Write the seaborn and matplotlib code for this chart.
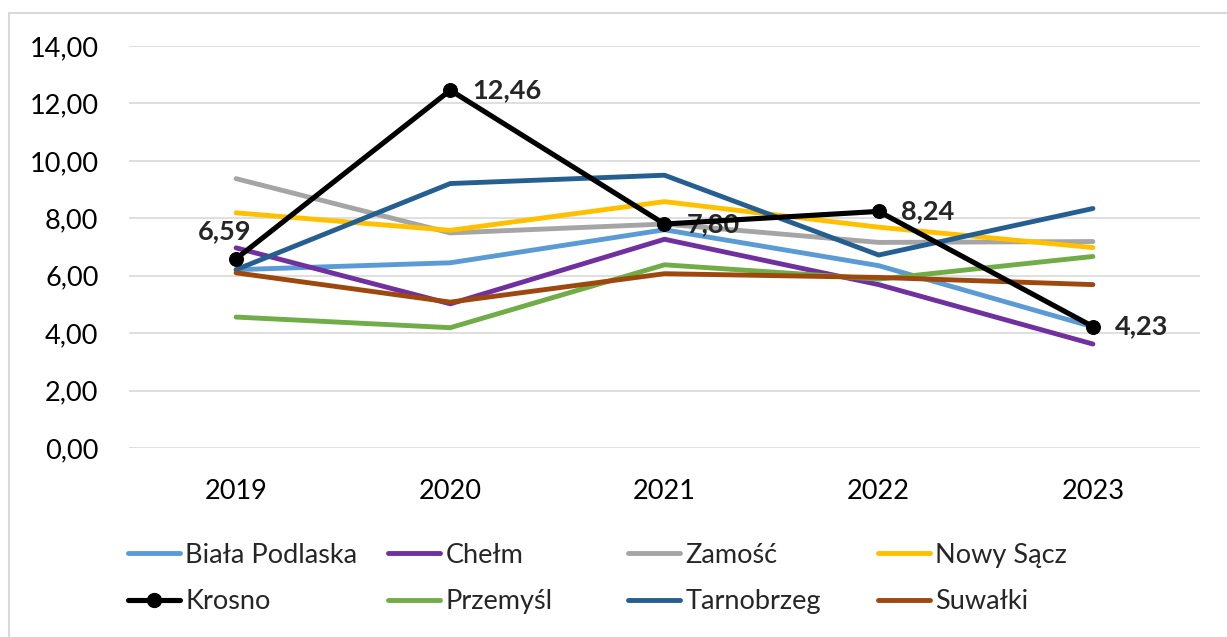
import pandas as pd
import matplotlib.pyplot as plt
import matplotlib.patches as patches
from matplotlib.lines import Line2D
from matplotlib.ticker import FuncFormatter
import seaborn as sns

# Data
years = [2019, 2020, 2021, 2022, 2023]
biala_podlaska = [6.21, 6.45, 7.60, 6.35, 4.22]
chelm = [6.97, 5.02, 7.27, 5.69, 3.62]
zamosc = [9.38, 7.49, 7.80, 7.16, 7.19]
nowy_sacz = [8.19, 7.58, 8.58, 7.69, 6.98]
krosno = [6.59, 12.46, 7.80, 8.24, 4.23]
przemysl = [4.56, 4.19, 6.38, 5.88, 6.67]
tarnobrzeg = [6.21, 9.21, 9.50, 6.72, 8.34]
suwalki = [6.10, 5.08, 6.07, 5.94, 5.69]

cities = ['Biała Podlaska', 'Chełm', 'Zamość', 'Nowy Sącz',
          'Krosno', 'Przemyśl', 'Tarnobrzeg', 'Suwałki']
series = [biala_podlaska, chelm, zamosc, nowy_sacz,
          krosno, przemysl, tarnobrzeg, suwalki]
colors = {
    'Biała Podlaska': '#5B9BD5',
    'Chełm': '#7030A0',
    'Zamość': '#A5A5A5',
    'Nowy Sącz': '#FFC000',
    'Krosno': '#000000',
    'Przemyśl': '#70AD47',
    'Tarnobrzeg': '#255E91',
    'Suwałki': '#9E480E',
}

rows = []
for city, vals in zip(cities, series):
    for yr, v in zip(years, vals):
        rows.append({'rok': yr, 'miasto': city, 'wartosc': v})
df = pd.DataFrame(rows)

sns.set_style('white')
plt.rcParams['font.family'] = ['Lato', 'DejaVu Sans']
FS = 19.5
LW = 3.5

fig = plt.figure(figsize=(12.27, 6.37), dpi=100)
ax = fig.add_axes([129 / 1227, 189 / 637,
                   1071 / 1227, 402 / 637])

# outer chart frame
fig.patches.append(patches.Rectangle(
    (9 / 1227, -0.05), 1.2, 0.05 + 624 / 637,
    transform=fig.transFigure, fill=False,
    edgecolor='#D9D9D9', linewidth=1.5))

others = [c for c in cities if c != 'Krosno']
sns.lineplot(data=df[df['miasto'] != 'Krosno'],
             x='rok', y='wartosc', hue='miasto',
             hue_order=others, palette=colors,
             linewidth=LW, legend=False, ax=ax,
             clip_on=False)

kr = df[df['miasto'] == 'Krosno']
sns.lineplot(data=kr, x='rok', y='wartosc',
             color='black', linewidth=LW + 0.2,
             marker='o', markersize=10,
             markeredgecolor='black', legend=False,
             ax=ax, clip_on=False, zorder=5)

# data labels for Krosno
for i, (yr, v) in enumerate(zip(years, krosno)):
    lab = f'{v:.2f}'.replace('.', ',')
    if i == 0:
        ax.annotate(lab, (yr, v), xytext=(15, 16),
                    textcoords='offset pixels',
                    ha='right', va='bottom',
                    fontsize=FS, fontweight='bold')
    else:
        ax.annotate(lab, (yr, v), xytext=(22, 0),
                    textcoords='offset pixels',
                    ha='left', va='center',
                    fontsize=FS, fontweight='bold')

ax.set_xlim(2018.5, 2023.5)
ax.set_ylim(0, 14)
ax.set_xticks(years)
ax.set_xticklabels([str(y) for y in years])
ax.set_yticks(range(0, 15, 2))
ax.yaxis.set_major_formatter(FuncFormatter(
    lambda v, p: f'{v:.2f}'.replace('.', ',')))
ax.tick_params(axis='both', length=0,
               labelsize=FS, pad=22, colors='black')
ax.grid(axis='y', color='#D9D9D9', linewidth=1.2)
ax.set_axisbelow(True)
for s in ax.spines.values():
    s.set_visible(False)
ax.set_xlabel('')
ax.set_ylabel('')

# legend, 4 columns placed like in the original
cols = [['Biała Podlaska', 'Krosno'],
        ['Chełm', 'Przemyśl'],
        ['Zamość', 'Tarnobrzeg'],
        ['Nowy Sącz', 'Suwałki']]
xpos = [128, 388, 628, 878]
for names, x in zip(cols, xpos):
    handles = []
    for n in names:
        if n == 'Krosno':
            handles.append(Line2D([], [], color='black',
                                  linewidth=LW + 0.2, marker='o',
                                  markersize=10))
        else:
            handles.append(Line2D([], [], color=colors[n],
                                  linewidth=LW))
    leg = fig.legend(handles, names, loc='center left',
                     bbox_to_anchor=(x / 1227, 58.5 / 637),
                     frameon=False, fontsize=FS,
                     borderpad=0, borderaxespad=0,
                     handlelength=1.93, handletextpad=0.19,
                     labelspacing=0.8)

fig.savefig('out.png', dpi=100)
